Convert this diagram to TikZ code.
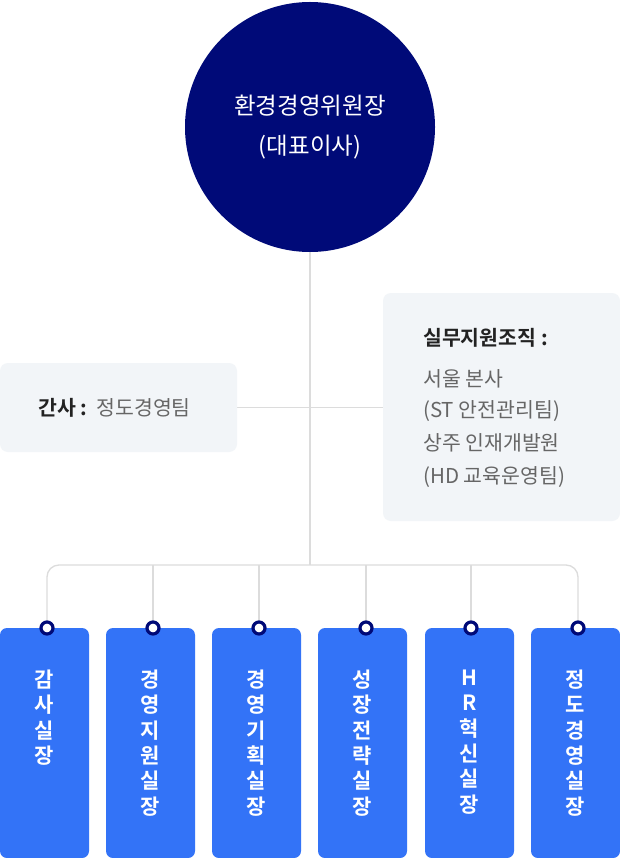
\documentclass[tikz,border=0pt]{standalone}
\usepackage{fontspec}
\setmainfont{Noto Sans CJK KR}[BoldFont={Noto Sans CJK KR Bold}]
\usetikzlibrary{backgrounds}
\definecolor{navy}{HTML}{000A78}
\definecolor{bluebox}{HTML}{3373F7}
\definecolor{graybox}{HTML}{F2F5F8}
\definecolor{connc}{HTML}{DCDCDC}
\definecolor{greytext}{HTML}{666666}
\definecolor{darktext}{HTML}{222222}
\tikzset{
  chair/.style={circle, fill=navy, minimum size=250pt, inner sep=0pt, text=white, align=center, font=\fontsize{23.5}{40}\selectfont},
  infobox/.style={rectangle, fill=graybox, rounded corners=8pt, inner sep=0pt},
  dept/.style={rectangle, fill=bluebox, rounded corners=7pt, minimum width=89pt, minimum height=230pt, inner sep=0pt},
  vtext/.style={anchor=north, align=center, text=white, font=\bfseries\fontsize{21}{25.3}\selectfont, inner sep=0pt},
  pin/.style={circle, draw=navy, line width=3.2pt, fill=white, minimum size=12pt, inner sep=0pt},
  conn/.style={draw=connc, line width=1.3pt},
  infotext/.style={anchor=west, inner sep=0pt, text=greytext, font=\fontsize{20.5}{24}\selectfont},
  infohead/.style={anchor=west, inner sep=0pt, text=darktext, font=\bfseries\fontsize{20.5}{24}\selectfont},
}
\begin{document}
\begin{tikzpicture}[x=1pt,y=-1pt]
\useasboundingbox (0,0) rectangle (620,858);
% top circle
\node[chair] (ceo) at (310,127) {환경경영위원장\\(대표이사)};
% side boxes
\node[infobox, minimum width=237pt, minimum height=89pt] (left) at (118.5,407.5) {};
\node[infotext, anchor=west] (lefttext) at (38,408) {\textcolor{darktext}{\bfseries 간사 :}\ \ 정도경영팀};
\node[infobox, minimum width=237pt, minimum height=228pt] (right) at (501.5,407) {};
\node[infohead] (rh) at (423,338) {실무지원조직 :};
\node[infotext] (r1) at (423,379) {서울 본사};
\node[infotext] (r2) at (423,411) {(ST 안전관리팀)};
\node[infotext] (r3) at (423,443) {상주 인재개발원};
\node[infotext] (r4) at (423,477) {(HD 교육운영팀)};
% departments
\foreach \i/\x in {1/44.5,2/150.5,3/256.5,4/362.5,5/469.5,6/575.5}{
  \node[dept] (b\i) at (\x,743) {};
}
\node[vtext] (t1) at ([yshift=-42]b1.north) {감\\사\\실\\장};
\node[vtext] (t2) at ([yshift=-42]b2.north) {경\\영\\지\\원\\실\\장};
\node[vtext] (t3) at ([yshift=-42]b3.north) {경\\영\\기\\획\\실\\장};
\node[vtext] (t4) at ([yshift=-42]b4.north) {성\\장\\전\\략\\실\\장};
\node[vtext] (t5) at ([yshift=-42]b5.north) {H\\R\\혁\\신\\실\\장};
\node[vtext] (t6) at ([yshift=-42]b6.north) {정\\도\\경\\영\\실\\장};
\coordinate (hub) at (310,565);
\begin{scope}[on background layer]
  \fill[white] (0,0) rectangle (620,858);
  \draw[conn] (ceo.south) -- (hub);
  \draw[conn] (left.east) -- (left.east -| right.west);
  \draw[conn, rounded corners=12pt] (47,628) |- (hub) -| (578,628);
  \draw[conn] (153,628) -- (153,565);
  \draw[conn] (259,628) -- (259,565);
  \draw[conn] (366,628) -- (366,565);
  \draw[conn] (471,628) -- (471,565);
\end{scope}
\foreach \i/\x in {1/47,2/153,3/259,4/366,5/471,6/578}{
  \node[pin] (p\i) at (\x,628) {};
}
\end{tikzpicture}
\end{document}
